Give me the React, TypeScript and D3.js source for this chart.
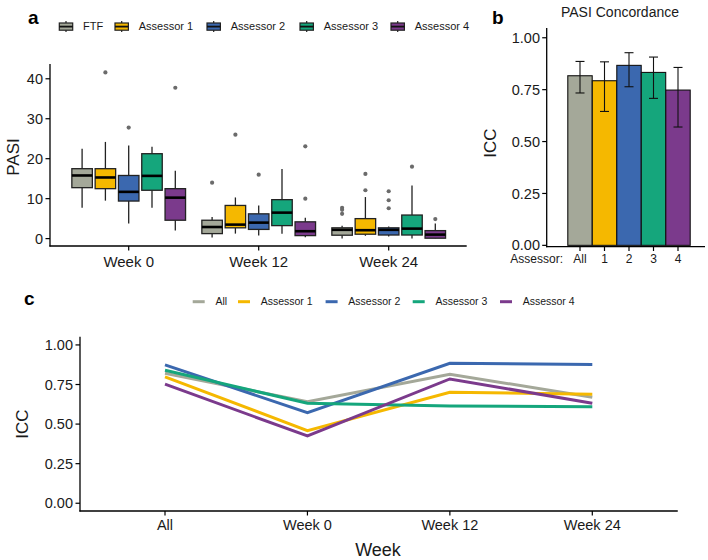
import React from "react";
import * as d3 from "d3";

// ---------- Data ----------
const weeks = ["Week 0", "Week 12", "Week 24"];
const groups = ["FTF", "Assessor 1", "Assessor 2", "Assessor 3", "Assessor 4"];
const groupColors = ["#A4A899", "#F5B800", "#3B68AF", "#15A67C", "#7B3A8C"];

// box stats per week per group: [lowWhisker, q1, median, q3, highWhisker]
const week0Stats = [
  [7.75, 12.75, 15.8, 17.5, 22.5],
  [9.5, 12.5, 15.3, 17.5, 24.2],
  [3.75, 9.4, 11.7, 15.8, 23.3],
  [7.75, 12.1, 15.7, 21.25, 23],
  [2, 4.6, 10.25, 12.5, 17],
];
const week12Stats = [
  [0.25, 1.25, 2.9, 4.6, 5.4],
  [1.25, 2.7, 3.5, 8.3, 10.3],
  [0.75, 2.3, 4, 6.2, 8.3],
  [1.2, 3.25, 6.5, 9.75, 17.4],
  [0.35, 0.75, 1.85, 4.2, 5.2],
];
const week24Stats = [
  [0, 0.85, 2.2, 2.7, 3.2],
  [0.7, 1.1, 2.1, 5, 10.4],
  [0.5, 0.9, 2.2, 2.7, 3],
  [0, 0.9, 2.5, 5.9, 13.3],
  [0, 0.1, 1, 2, 3.8],
];
const week0Outliers = [[], [41.6], [27.8], [], [37.75]];
const week12Outliers = [[14], [26], [16], [], [23.1, 10]];
const week24Outliers = [[7.7, 7.2, 6.2], [16.2, 12.1], [11.85, 9.6, 7.6], [18], [4.9]];
const pasiTicks = [0, 10, 20, 30, 40];

const iccLabels = ["All", "1", "2", "3", "4"];
const iccValues = [0.817, 0.793, 0.867, 0.833, 0.748];
const iccLow = [0.734, 0.645, 0.764, 0.708, 0.57];
const iccHigh = [0.886, 0.884, 0.928, 0.907, 0.857];
const iccTicks = [0, 0.25, 0.5, 0.75, 1];

const lineCats = ["All", "Week 0", "Week 12", "Week 24"];
const lineSeriesNames = ["All", "Assessor 1", "Assessor 2", "Assessor 3", "Assessor 4"];
const lineAll = [0.821, 0.642, 0.815, 0.67];
const lineA1 = [0.798, 0.459, 0.701, 0.689];
const lineA2 = [0.874, 0.572, 0.884, 0.876];
const lineA3 = [0.84, 0.632, 0.615, 0.61];
const lineA4 = [0.752, 0.425, 0.785, 0.632];

const FONT = "'Liberation Sans', Arial, Helvetica, sans-serif";
const INK = "#1a1a1a";

function PanelA() {
  const stats = [week0Stats, week12Stats, week24Stats];
  const outs = [week0Outliers, week12Outliers, week24Outliers];
  const x = d3.scalePoint<string>().domain(weeks).range([128.7, 388.7]);
  const step = 130;
  const y = d3.scaleLinear().domain([-1.85, 43.7]).range([246, 64]);
  const dodge = 23.3;
  const bw = 20.5;
  return (
    <g>
      <text x={28} y={24} fontSize={19} fontWeight="bold" fill="#000">a</text>
      {/* legend */}
      {groups.map((g, i) => {
        const kx = [59.3, 115, 207, 300, 391][i];
        const cx = kx + 6.7;
        return (
          <g key={g}>
            <line x1={cx} x2={cx} y1={21} y2={32} stroke="#222" strokeWidth={1.2} />
            <rect x={kx} y={23} width={13.4} height={7.2} fill={groupColors[i]} stroke="#222" strokeWidth={1.2} />
            <line x1={kx} x2={kx + 13.4} y1={26.6} y2={26.6} stroke="#111" strokeWidth={1.8} />
            <text x={kx + 23.7} y={26.6} dy="0.35em" fontSize={11} fill={INK}>{g}</text>
          </g>
        );
      })}
      {/* axes */}
      <line x1={50} x2={50} y1={64} y2={246.6} stroke="#000" strokeWidth={1.3} />
      <line x1={49.4} x2={x(weeks[2])! + step * 0.6} y1={246} y2={246} stroke="#000" strokeWidth={1.3} />
      {pasiTicks.map((t) => (
        <g key={t}>
          <line x1={45.5} x2={50} y1={y(t)} y2={y(t)} stroke="#000" strokeWidth={1.2} />
          <text x={43} y={y(t)} dy="0.35em" textAnchor="end" fontSize={14.5} fill={INK}>{t}</text>
        </g>
      ))}
      {weeks.map((w) => (
        <g key={w}>
          <line x1={x(w)} x2={x(w)} y1={246} y2={250.5} stroke="#000" strokeWidth={1.2} />
          <text x={x(w)} y={262} dy="0.35em" textAnchor="middle" fontSize={15} fill={INK}>{w}</text>
        </g>
      ))}
      <text transform={`translate(13,157) rotate(-90)`} textAnchor="middle" dy="0.35em" fontSize={17} fill={INK}>PASI</text>
      {/* boxes */}
      {weeks.map((w, wi) =>
        groups.map((g, gi) => {
          const [lo, q1, md, q3, hi] = stats[wi][gi];
          const cx = x(w)! + (gi - 2) * dodge;
          return (
            <g key={w + g}>
              <line x1={cx} x2={cx} y1={y(hi)} y2={y(q3)} stroke="#222" strokeWidth={1.3} />
              <line x1={cx} x2={cx} y1={y(q1)} y2={y(lo)} stroke="#222" strokeWidth={1.3} />
              <rect x={cx - bw / 2} y={y(q3)} width={bw} height={Math.max(0.5, y(q1) - y(q3))} fill={groupColors[gi]} stroke="#222" strokeWidth={1.3} />
              <line x1={cx - bw / 2} x2={cx + bw / 2} y1={y(md)} y2={y(md)} stroke="#000" strokeWidth={2.6} />
              {outs[wi][gi].map((o, k) => (
                <circle key={k} cx={cx} cy={y(o)} r={2.1} fill="#6b6b6b" />
              ))}
            </g>
          );
        })
      )}
    </g>
  );
}

function PanelB() {
  const x = d3.scaleLinear().domain([0, 4]).range([580, 678]);
  const bw = 24.4;
  const y = d3.scaleLinear().domain([-0.0065, 1.047]).range([246.7, 28]);
  return (
    <g>
      <text x={492} y={24} fontSize={19} fontWeight="bold" fill="#000">b</text>
      <text x={620} y={12} dy="0.35em" textAnchor="middle" fontSize={14} fill={INK}>PASI Concordance</text>
      {iccLabels.map((l, i) => (
        <rect key={l} x={x(i) - bw / 2} y={y(iccValues[i])} width={bw} height={y(0) - y(iccValues[i])} fill={groupColors[i]} stroke="#111" strokeWidth={1.1} />
      ))}
      {iccLabels.map((l, i) => (
        <g key={"e" + l}>
          <line x1={x(i)} x2={x(i)} y1={y(iccHigh[i])} y2={y(iccLow[i])} stroke="#111" strokeWidth={1.1} />
          <line x1={x(i) - 4.5} x2={x(i) + 4.5} y1={y(iccHigh[i])} y2={y(iccHigh[i])} stroke="#111" strokeWidth={1.1} />
          <line x1={x(i) - 4.5} x2={x(i) + 4.5} y1={y(iccLow[i])} y2={y(iccLow[i])} stroke="#111" strokeWidth={1.1} />
        </g>
      ))}
      <line x1={546.7} x2={546.7} y1={28} y2={247.3} stroke="#000" strokeWidth={1.3} />
      <line x1={546} x2={705} y1={246.7} y2={246.7} stroke="#000" strokeWidth={1.3} />
      {iccTicks.map((t) => (
        <g key={t}>
          <line x1={542.2} x2={546.7} y1={y(t)} y2={y(t)} stroke="#000" strokeWidth={1.2} />
          <text x={540} y={y(t)} dy="0.35em" textAnchor="end" fontSize={14.5} fill={INK}>{t.toFixed(2)}</text>
        </g>
      ))}
      {iccLabels.map((l, i) => (
        <g key={"t" + l}>
          <line x1={x(i)} x2={x(i)} y1={246.7} y2={251} stroke="#000" strokeWidth={1.2} />
          <text x={x(i)} y={259} dy="0.35em" textAnchor="middle" fontSize={12} fill={INK}>{l}</text>
        </g>
      ))}
      <text x={563} y={259} dy="0.35em" textAnchor="end" fontSize={12} fill={INK}>Assessor:</text>
      <text transform={`translate(490,143) rotate(-90)`} textAnchor="middle" dy="0.35em" fontSize={17} fill={INK}>ICC</text>
    </g>
  );
}

function PanelC() {
  const series = [lineAll, lineA1, lineA2, lineA3, lineA4];
  const x = d3.scalePoint<string>().domain(lineCats).range([165, 592.3]);
  const step = (592.3 - 165) / 3;
  const y = d3.scaleLinear().domain([-0.049, 1.052]).range([511, 336.7]);
  const line = d3
    .line<number>()
    .x((_, i) => x(lineCats[i])!)
    .y((d) => y(d));
  const legendKeys = [192.7, 238, 325.6, 412.7, 500];
  const order = [0, 1, 2, 3, 4];
  return (
    <g>
      <text x={24} y={305} fontSize={19} fontWeight="bold" fill="#000">c</text>
      {lineSeriesNames.map((n, i) => (
        <g key={n}>
          <line x1={legendKeys[i]} x2={legendKeys[i] + 12} y1={301.7} y2={301.7} stroke={groupColors[i]} strokeWidth={3} />
          <text x={legendKeys[i] + 22.7} y={301.7} dy="0.35em" fontSize={10.5} fill={INK}>{n}</text>
        </g>
      ))}
      {order.map((i) => (
        <path key={i} d={line(series[i]) || ""} fill="none" stroke={groupColors[i]} strokeWidth={3} strokeLinejoin="miter" />
      ))}
      <line x1={80} x2={80} y1={336.7} y2={511.6} stroke="#000" strokeWidth={1.3} />
      <line x1={79.4} x2={x("Week 24")! + step * 0.6} y1={511} y2={511} stroke="#000" strokeWidth={1.3} />
      {iccTicks.map((t) => (
        <g key={t}>
          <line x1={75.5} x2={80} y1={y(t)} y2={y(t)} stroke="#000" strokeWidth={1.2} />
          <text x={73} y={y(t)} dy="0.35em" textAnchor="end" fontSize={14.5} fill={INK}>{t.toFixed(2)}</text>
        </g>
      ))}
      {lineCats.map((c) => (
        <g key={c}>
          <line x1={x(c)} x2={x(c)} y1={511} y2={515.5} stroke="#000" strokeWidth={1.2} />
          <text x={x(c)} y={525} dy="0.35em" textAnchor="middle" fontSize={14.5} fill={INK}>{c}</text>
        </g>
      ))}
      <text x={378} y={550} dy="0.35em" textAnchor="middle" fontSize={18} fill={INK}>Week</text>
      <text transform={`translate(22,424) rotate(-90)`} textAnchor="middle" dy="0.35em" fontSize={17} fill={INK}>ICC</text>
    </g>
  );
}

export default function App() {
  return (
    <svg
      width={708}
      height={560}
      style={{ position: "absolute", left: 0, top: 0, background: "#fff" }}
      fontFamily={FONT}
    >
      <rect x={0} y={0} width={708} height={560} fill="#fff" />
      <PanelA />
      <PanelB />
      <PanelC />
    </svg>
  );
}
